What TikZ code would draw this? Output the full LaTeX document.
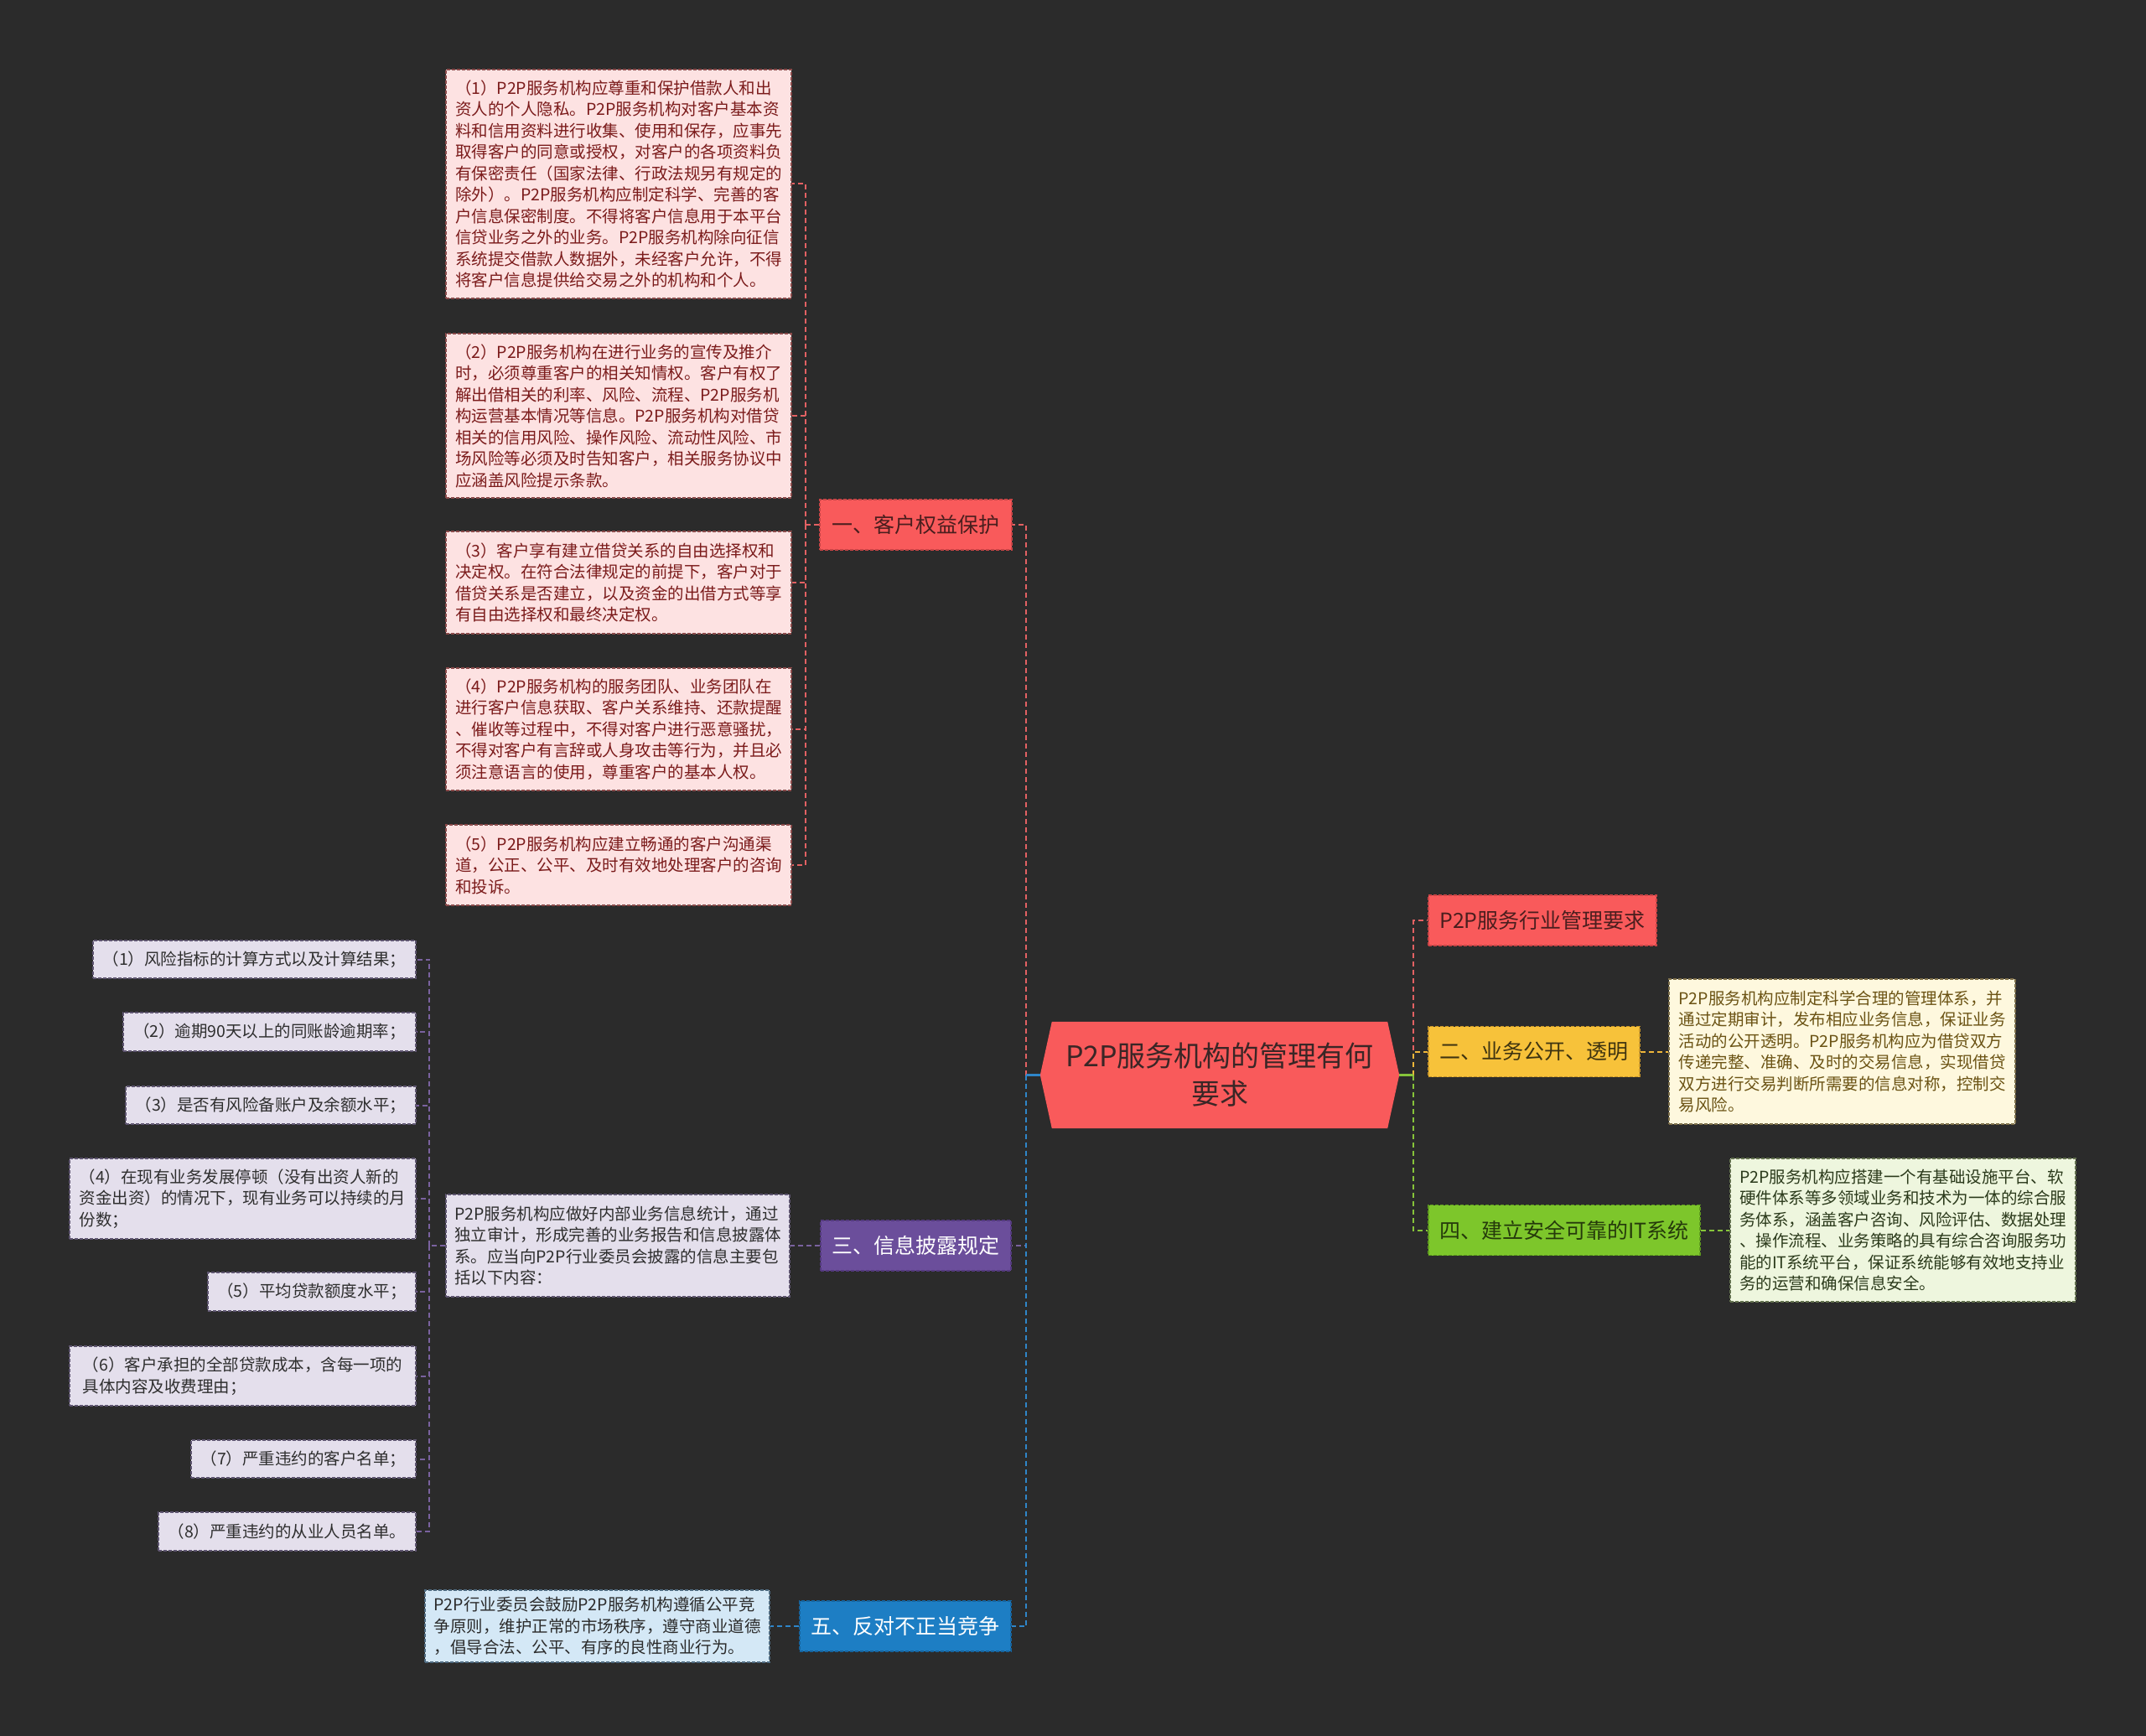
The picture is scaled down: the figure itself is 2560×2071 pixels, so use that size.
\documentclass[tikz,border=0pt]{standalone}
\usepackage{fontspec}
\setmainfont{Noto Sans CJK SC}
\usetikzlibrary{backgrounds}
\definecolor{bgc}{HTML}{2B2B2B}
\definecolor{redf}{HTML}{F95A5B}
\definecolor{redb}{HTML}{C94446}
\definecolor{redt}{HTML}{4A1E1E}
\definecolor{roott}{HTML}{3A2626}
\definecolor{redc}{HTML}{E36163}
\definecolor{pinkf}{HTML}{FDE2E2}
\definecolor{pinkb}{HTML}{8A4A4A}
\definecolor{pinkt}{HTML}{7B1B1B}
\definecolor{purf}{HTML}{6B4E9B}
\definecolor{purb}{HTML}{54397F}
\definecolor{purc}{HTML}{7A629F}
\definecolor{lavf}{HTML}{E4DFEC}
\definecolor{lavb}{HTML}{5E5570}
\definecolor{lavt}{HTML}{2E2E2E}
\definecolor{bluf}{HTML}{1D7EC4}
\definecolor{blub}{HTML}{16649E}
\definecolor{bluc}{HTML}{2F86C9}
\definecolor{skyf}{HTML}{D4E8F6}
\definecolor{skyb}{HTML}{4E6A80}
\definecolor{skyt}{HTML}{2B2B2B}
\definecolor{yelf}{HTML}{F7C23A}
\definecolor{yelb}{HTML}{C9962A}
\definecolor{yelt}{HTML}{3F3410}
\definecolor{yelc}{HTML}{F0B73A}
\definecolor{crmf}{HTML}{FEF8DE}
\definecolor{crmb}{HTML}{7E704A}
\definecolor{crmt}{HTML}{6B5314}
\definecolor{grnf}{HTML}{7DC62B}
\definecolor{grnb}{HTML}{5E9A1E}
\definecolor{grnt}{HTML}{253A0B}
\definecolor{grnc}{HTML}{86C43A}
\definecolor{mintf}{HTML}{EEF6DE}
\definecolor{mintb}{HTML}{62704E}
\definecolor{mintt}{HTML}{2B3A1B}
\tikzset{
  box/.style={dash pattern=on 4pt off 2pt, line width=1.5pt, align=left, inner sep=0pt,
    font=\fontsize{19.5}{25.5}\selectfont},
  pinkbox/.style={box, draw=pinkb, fill=pinkf, text=pinkt},
  lavbox/.style={box, draw=lavb, fill=lavf, text=lavt},
  skybox/.style={box, draw=skyb, fill=skyf, text=skyt},
  crmbox/.style={box, draw=crmb, fill=crmf, text=crmt},
  mintbox/.style={box, draw=mintb, fill=mintf, text=mintt},
  branch/.style={dash pattern=on 4pt off 2pt, line width=1.5pt, inner sep=0pt,
    minimum height=60pt, font=\fontsize{25}{30}\selectfont},
  conn/.style={line width=2pt, dash pattern=on 6pt off 4pt},
  solidconn/.style={line width=2.5pt}
}
\begin{document}
\begin{tikzpicture}[x=1pt,y=-1pt]
\useasboundingbox (0,0) rectangle (2560,2071);
% root
\node[minimum width=428pt, minimum height=127pt, inner sep=0pt, align=center, text=roott,
  font=\fontsize{34}{45}\selectfont] (root) at (1455,1282.5) {P2P服务机构的管理有何\\要求};
\begin{scope}[on background layer]
\fill[bgc] (0,0) rectangle (2560,2071);
\fill[redf] (root.west) -- ([xshift=14pt]root.north west) -- ([xshift=-14pt]root.north east)
  -- (root.east) -- ([xshift=-14pt]root.south east) -- ([xshift=14pt]root.south west) -- cycle;
\end{scope}

% left branches
\node[branch, draw=redb, fill=redf, text=redt, minimum width=229pt] (b1) at (1092.5,626) {一、客户权益保护};
\node[branch, draw=purb, fill=purf, text=white, minimum width=227pt] (b3) at (1092.5,1486) {三、信息披露规定};
\node[branch, draw=blub, fill=bluf, text=white, minimum width=252pt] (b5) at (1080,1940) {五、反对不正当竞争};

% right branches
\node[branch, draw=redb, fill=redf, text=redt, minimum width=272pt] (p2p) at (1840,1098) {P2P服务行业管理要求};
\node[branch, draw=yelb, fill=yelf, text=yelt, minimum width=252pt] (b2) at (1830,1254.5) {二、业务公开、透明};
\node[branch, draw=grnb, fill=grnf, text=grnt, minimum width=324pt] (b4) at (1866,1467.5) {四、建立安全可靠的IT系统};

% items of branch 1
\node[pinkbox, minimum width=412pt, minimum height=273pt] (c1) at (738,219.5) {（1）P2P服务机构应尊重和保护借款人和出\\资人的个人隐私。P2P服务机构对客户基本资\\料和信用资料进行收集、使用和保存，应事先\\取得客户的同意或授权，对客户的各项资料负\\有保密责任（国家法律、行政法规另有规定的\\除外）。P2P服务机构应制定科学、完善的客\\户信息保密制度。不得将客户信息用于本平台\\信贷业务之外的业务。P2P服务机构除向征信\\系统提交借款人数据外，未经客户允许，不得\\将客户信息提供给交易之外的机构和个人。};
\node[pinkbox, minimum width=412pt, minimum height=196pt] (c2) at (738,496) {（2）P2P服务机构在进行业务的宣传及推介\\时，必须尊重客户的相关知情权。客户有权了\\解出借相关的利率、风险、流程、P2P服务机\\构运营基本情况等信息。P2P服务机构对借贷\\相关的信用风险、操作风险、流动性风险、市\\场风险等必须及时告知客户，相关服务协议中\\应涵盖风险提示条款。};
\node[pinkbox, minimum width=412pt, minimum height=122pt] (c3) at (738,695) {（3）客户享有建立借贷关系的自由选择权和\\决定权。在符合法律规定的前提下，客户对于\\借贷关系是否建立，以及资金的出借方式等享\\有自由选择权和最终决定权。};
\node[pinkbox, minimum width=412pt, minimum height=146pt] (c4) at (738,870) {（4）P2P服务机构的服务团队、业务团队在\\进行客户信息获取、客户关系维持、还款提醒\\、催收等过程中，不得对客户进行恶意骚扰，\\不得对客户有言辞或人身攻击等行为，并且必\\须注意语言的使用，尊重客户的基本人权。};
\node[pinkbox, minimum width=412pt, minimum height=96pt] (c5) at (738,1032) {（5）P2P服务机构应建立畅通的客户沟通渠\\道，公正、公平、及时有效地处理客户的咨询\\和投诉。};

% branch 3 items
\node[lavbox, minimum width=410pt, minimum height=122pt] (lm) at (737,1486) {P2P服务机构应做好内部业务信息统计，通过\\独立审计，形成完善的业务报告和信息披露体\\系。应当向P2P行业委员会披露的信息主要包\\括以下内容：};
\node[lavbox, minimum width=385pt, minimum height=45pt] (s1) at (303.5,1144.5) {（1）风险指标的计算方式以及计算结果；};
\node[lavbox, minimum width=349pt, minimum height=46pt] (s2) at (321.5,1231) {（2）逾期90天以上的同账龄逾期率；};
\node[lavbox, minimum width=346pt, minimum height=45pt] (s3) at (323,1318.5) {（3）是否有风险备账户及余额水平；};
\node[lavbox, minimum width=413pt, minimum height=96pt] (s4) at (289.5,1430) {（4）在现有业务发展停顿（没有出资人新的\\资金出资）的情况下，现有业务可以持续的月\\份数；};
\node[lavbox, minimum width=248pt, minimum height=46pt] (s5) at (372,1541) {（5）平均贷款额度水平；};
\node[lavbox, minimum width=413pt, minimum height=71pt] (s6) at (289.5,1641.5) {（6）客户承担的全部贷款成本，含每一项的\\具体内容及收费理由；};
\node[lavbox, minimum width=268pt, minimum height=45pt] (s7) at (362,1740.5) {（7）严重违约的客户名单；};
\node[lavbox, minimum width=307pt, minimum height=46pt] (s8) at (342.5,1827) {（8）严重违约的从业人员名单。};

% branch 5 item
\node[skybox, minimum width=411pt, minimum height=86pt] (bi) at (712.5,1940) {P2P行业委员会鼓励P2P服务机构遵循公平竞\\争原则，维护正常的市场秩序，遵守商业道德\\，倡导合法、公平、有序的良性商业行为。};

% right items
\node[crmbox, minimum width=413pt, minimum height=173pt] (yi) at (2197.5,1254.5) {P2P服务机构应制定科学合理的管理体系，并\\通过定期审计，发布相应业务信息，保证业务\\活动的公开透明。P2P服务机构应为借贷双方\\传递完整、准确、及时的交易信息，实现借贷\\双方进行交易判断所需要的信息对称，控制交\\易风险。};
\node[mintbox, minimum width=412pt, minimum height=171pt] (gi) at (2270,1467.5) {P2P服务机构应搭建一个有基础设施平台、软\\硬件体系等多领域业务和技术为一体的综合服\\务体系，涵盖客户咨询、风险评估、数据处理\\、操作流程、业务策略的具有综合咨询服务功\\能的IT系统平台，保证系统能够有效地支持业\\务的运营和确保信息安全。};

% bus coordinates
\coordinate (bl) at (1224,1282.5);
\coordinate (br) at (1686,1282.5);
\coordinate (rb) at (961,626);
\coordinate (lb) at (512,1486);

% connectors from root (left)
\draw[conn, purc] (bl) |- (b3.east);
\draw[conn, bluc] (bl) |- (b5.east);
\draw[conn, redc] (bl) |- (b1.east);
\draw[solidconn, bluc] (root.west) -- (bl);
% connectors from root (right)
\draw[conn, grnc] (br) |- (b4.west);
\draw[conn, redc] (br) |- (p2p.west);
\draw[conn, yelc] (br) |- (b2.west);
\draw[solidconn, grnc] (root.east) -- (br);

% branch 1 children
\draw[conn, redc] (b1.west) -- (rb);
\draw[conn, redc] (rb) |- (c1.east);
\draw[conn, redc] (rb) |- (c2.east);
\draw[conn, redc] (rb) |- (c3.east);
\draw[conn, redc] (rb) |- (c4.east);
\draw[conn, redc] (rb) |- (c5.east);

% branch 3 children
\draw[conn, purc] (b3.west) -- (lm.east);
\draw[conn, purc] (lm.west) -- (lb);
\draw[conn, purc] (lb) |- (s1.east);
\draw[conn, purc] (lb) |- (s2.east);
\draw[conn, purc] (lb) |- (s3.east);
\draw[conn, purc] (lb) |- (s4.east);
\draw[conn, purc] (lb) |- (s5.east);
\draw[conn, purc] (lb) |- (s6.east);
\draw[conn, purc] (lb) |- (s7.east);
\draw[conn, purc] (lb) |- (s8.east);

% branch 5 child
\draw[conn, bluc] (b5.west) -- (bi.east);
% right children
\draw[conn, yelc] (b2.east) -- (yi.west);
\draw[conn, grnc] (b4.east) -- (gi.west);
\end{tikzpicture}
\end{document}
